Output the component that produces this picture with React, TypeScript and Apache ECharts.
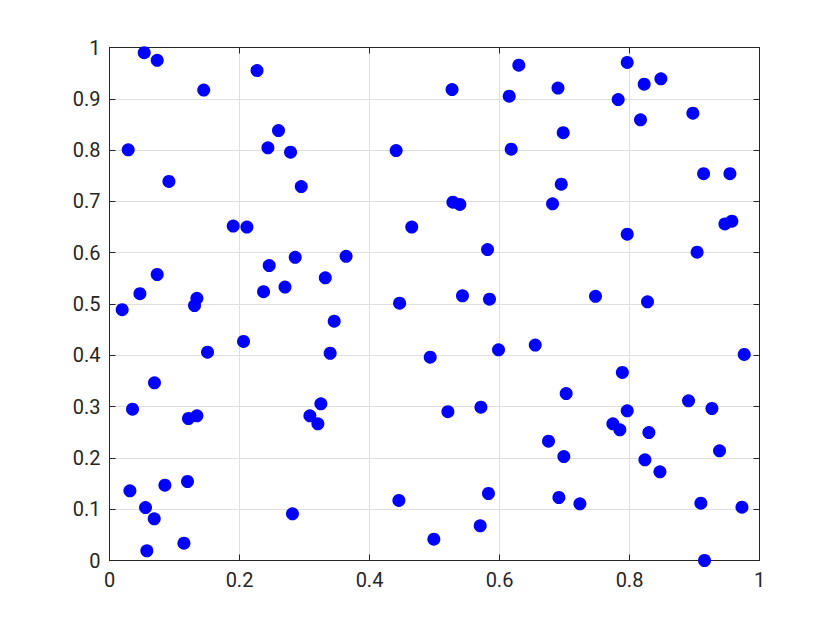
import React, { useEffect, useRef } from "react";
import * as echarts from "echarts";

const xValues = [
  0.0534, 0.0734, 0.145, 0.227, 0.0288, 0.26, 0.2437, 0.2785, 0.0914, 0.295,
  0.441, 0.1903, 0.2114, 0.465, 0.0734, 0.0468, 0.1345, 0.2457, 0.2857, 0.364,
  0.332, 0.237, 0.27, 0.4463, 0.527, 0.6297, 0.615, 0.69, 0.7965, 0.7826,
  0.8226, 0.8483, 0.8169, 0.8975, 0.698, 0.618, 0.914, 0.9545, 0.695, 0.5283,
  0.539, 0.6816, 0.9468, 0.9575, 0.7965, 0.5816, 0.904, 0.543, 0.5846, 0.7477,
  0.8277, 0.4934, 0.5985, 0.655, 0.9765, 0.789, 0.7026, 0.5206, 0.5714, 0.7965,
  0.8908, 0.9268, 0.7744, 0.7852, 0.8298, 0.6754, 0.699, 0.8237, 0.8468, 0.9385,
  0.583, 0.6914, 0.7237, 0.9098, 0.973, 0.5703, 0.499, 0.9154, 0.0195, 0.1308,
  0.3457, 0.2062, 0.1508, 0.3395, 0.0692, 0.0354, 0.1215, 0.1345, 0.3083, 0.3252,
  0.3206, 0.0314, 0.0852, 0.12, 0.0554, 0.0688, 0.0575, 0.1145, 0.2815, 0.4452,
];
const yValues = [
  0.99, 0.975, 0.917, 0.955, 0.8006, 0.838, 0.8045, 0.796, 0.739, 0.729,
  0.799, 0.652, 0.65, 0.65, 0.5575, 0.52, 0.511, 0.575, 0.591, 0.593,
  0.551, 0.524, 0.533, 0.5016, 0.918, 0.9655, 0.905, 0.921, 0.971, 0.8986,
  0.9285, 0.939, 0.859, 0.872, 0.834, 0.8018, 0.754, 0.754, 0.7335, 0.6985,
  0.694, 0.6953, 0.656, 0.6615, 0.636, 0.606, 0.601, 0.516, 0.5094, 0.515,
  0.5042, 0.3963, 0.4107, 0.42, 0.4016, 0.3665, 0.3255, 0.29, 0.2989, 0.2918,
  0.3113, 0.2963, 0.2664, 0.2547, 0.2495, 0.2326, 0.2027, 0.1963, 0.1729, 0.2138,
  0.1306, 0.1228, 0.1105, 0.1117, 0.104, 0.0676, 0.0416, 0.0, 0.489, 0.497,
  0.4665, 0.427, 0.406, 0.404, 0.3464, 0.295, 0.2768, 0.282, 0.282, 0.3054,
  0.2664, 0.1358, 0.1468, 0.154, 0.1033, 0.0813, 0.0189, 0.0337, 0.091, 0.117,
];
const xTickLabels = ["0", "0.2", "0.4", "0.6", "0.8", "1"];
const yTickLabels = ["0", "0.1", "0.2", "0.3", "0.4", "0.5", "0.6", "0.7", "0.8", "0.9", "1"];

const AXIS_COLOR = "#262626";
const GRID_COLOR = "#dfdfdf";
const FONT = "Roboto, 'Liberation Sans', Arial, sans-serif";

export default function App() {
  const ref = useRef<HTMLDivElement>(null);
  useEffect(() => {
    if (!ref.current) return;
    const chart = echarts.init(ref.current, null, { renderer: "svg" });
    const points = xValues.map((x, i) => [x, yValues[i]]);
    const fmtX = (v: number) => {
      const idx = Math.round(v / 0.2);
      return xTickLabels[idx] ?? "";
    };
    const fmtY = (v: number) => {
      const idx = Math.round(v / 0.1);
      return yTickLabels[idx] ?? "";
    };
    const baseX = {
      type: "value",
      min: 0,
      max: 1,
      interval: 0.2,
      axisLine: { show: true, onZero: false, lineStyle: { color: AXIS_COLOR, width: 1 } },
      axisTick: { show: true, inside: true, length: 6, lineStyle: { color: AXIS_COLOR } },
    };
    const baseY = {
      type: "value",
      min: 0,
      max: 1,
      interval: 0.1,
      axisLine: { show: true, onZero: false, lineStyle: { color: AXIS_COLOR, width: 1 } },
      axisTick: { show: true, inside: true, length: 6, lineStyle: { color: AXIS_COLOR } },
    };
    chart.setOption({
      animation: false,
      backgroundColor: "#ffffff",
      grid: { left: 109.5, top: 47.5, width: 650, height: 513, containLabel: false },
      xAxis: [
        {
          ...baseX,
          position: "bottom",
          splitLine: { show: true, lineStyle: { color: GRID_COLOR, width: 1 } },
          axisLabel: { show: true, color: AXIS_COLOR, fontSize: 20, fontFamily: FONT, margin: 9, formatter: fmtX },
        },
        {
          ...baseX,
          position: "top",
          splitLine: { show: false },
          axisLabel: { show: false },
        },
      ],
      yAxis: [
        {
          ...baseY,
          position: "left",
          splitLine: { show: true, lineStyle: { color: GRID_COLOR, width: 1 } },
          axisLabel: { show: true, color: AXIS_COLOR, fontSize: 20, fontFamily: FONT, margin: 9, formatter: fmtY },
        },
        {
          ...baseY,
          position: "right",
          splitLine: { show: false },
          axisLabel: { show: false },
        },
      ],
      series: [
        {
          type: "scatter",
          xAxisIndex: 0,
          yAxisIndex: 0,
          data: points,
          symbol: "circle",
          symbolSize: 13,
          itemStyle: { color: "#0000ff", opacity: 1 },
          emphasis: { disabled: true },
        },
      ],
    });
    return () => chart.dispose();
  }, []);
  return (
    <div
      ref={ref}
      style={{ position: "fixed", left: 0, top: 0, width: 840, height: 630, background: "#fff" }}
    />
  );
}
